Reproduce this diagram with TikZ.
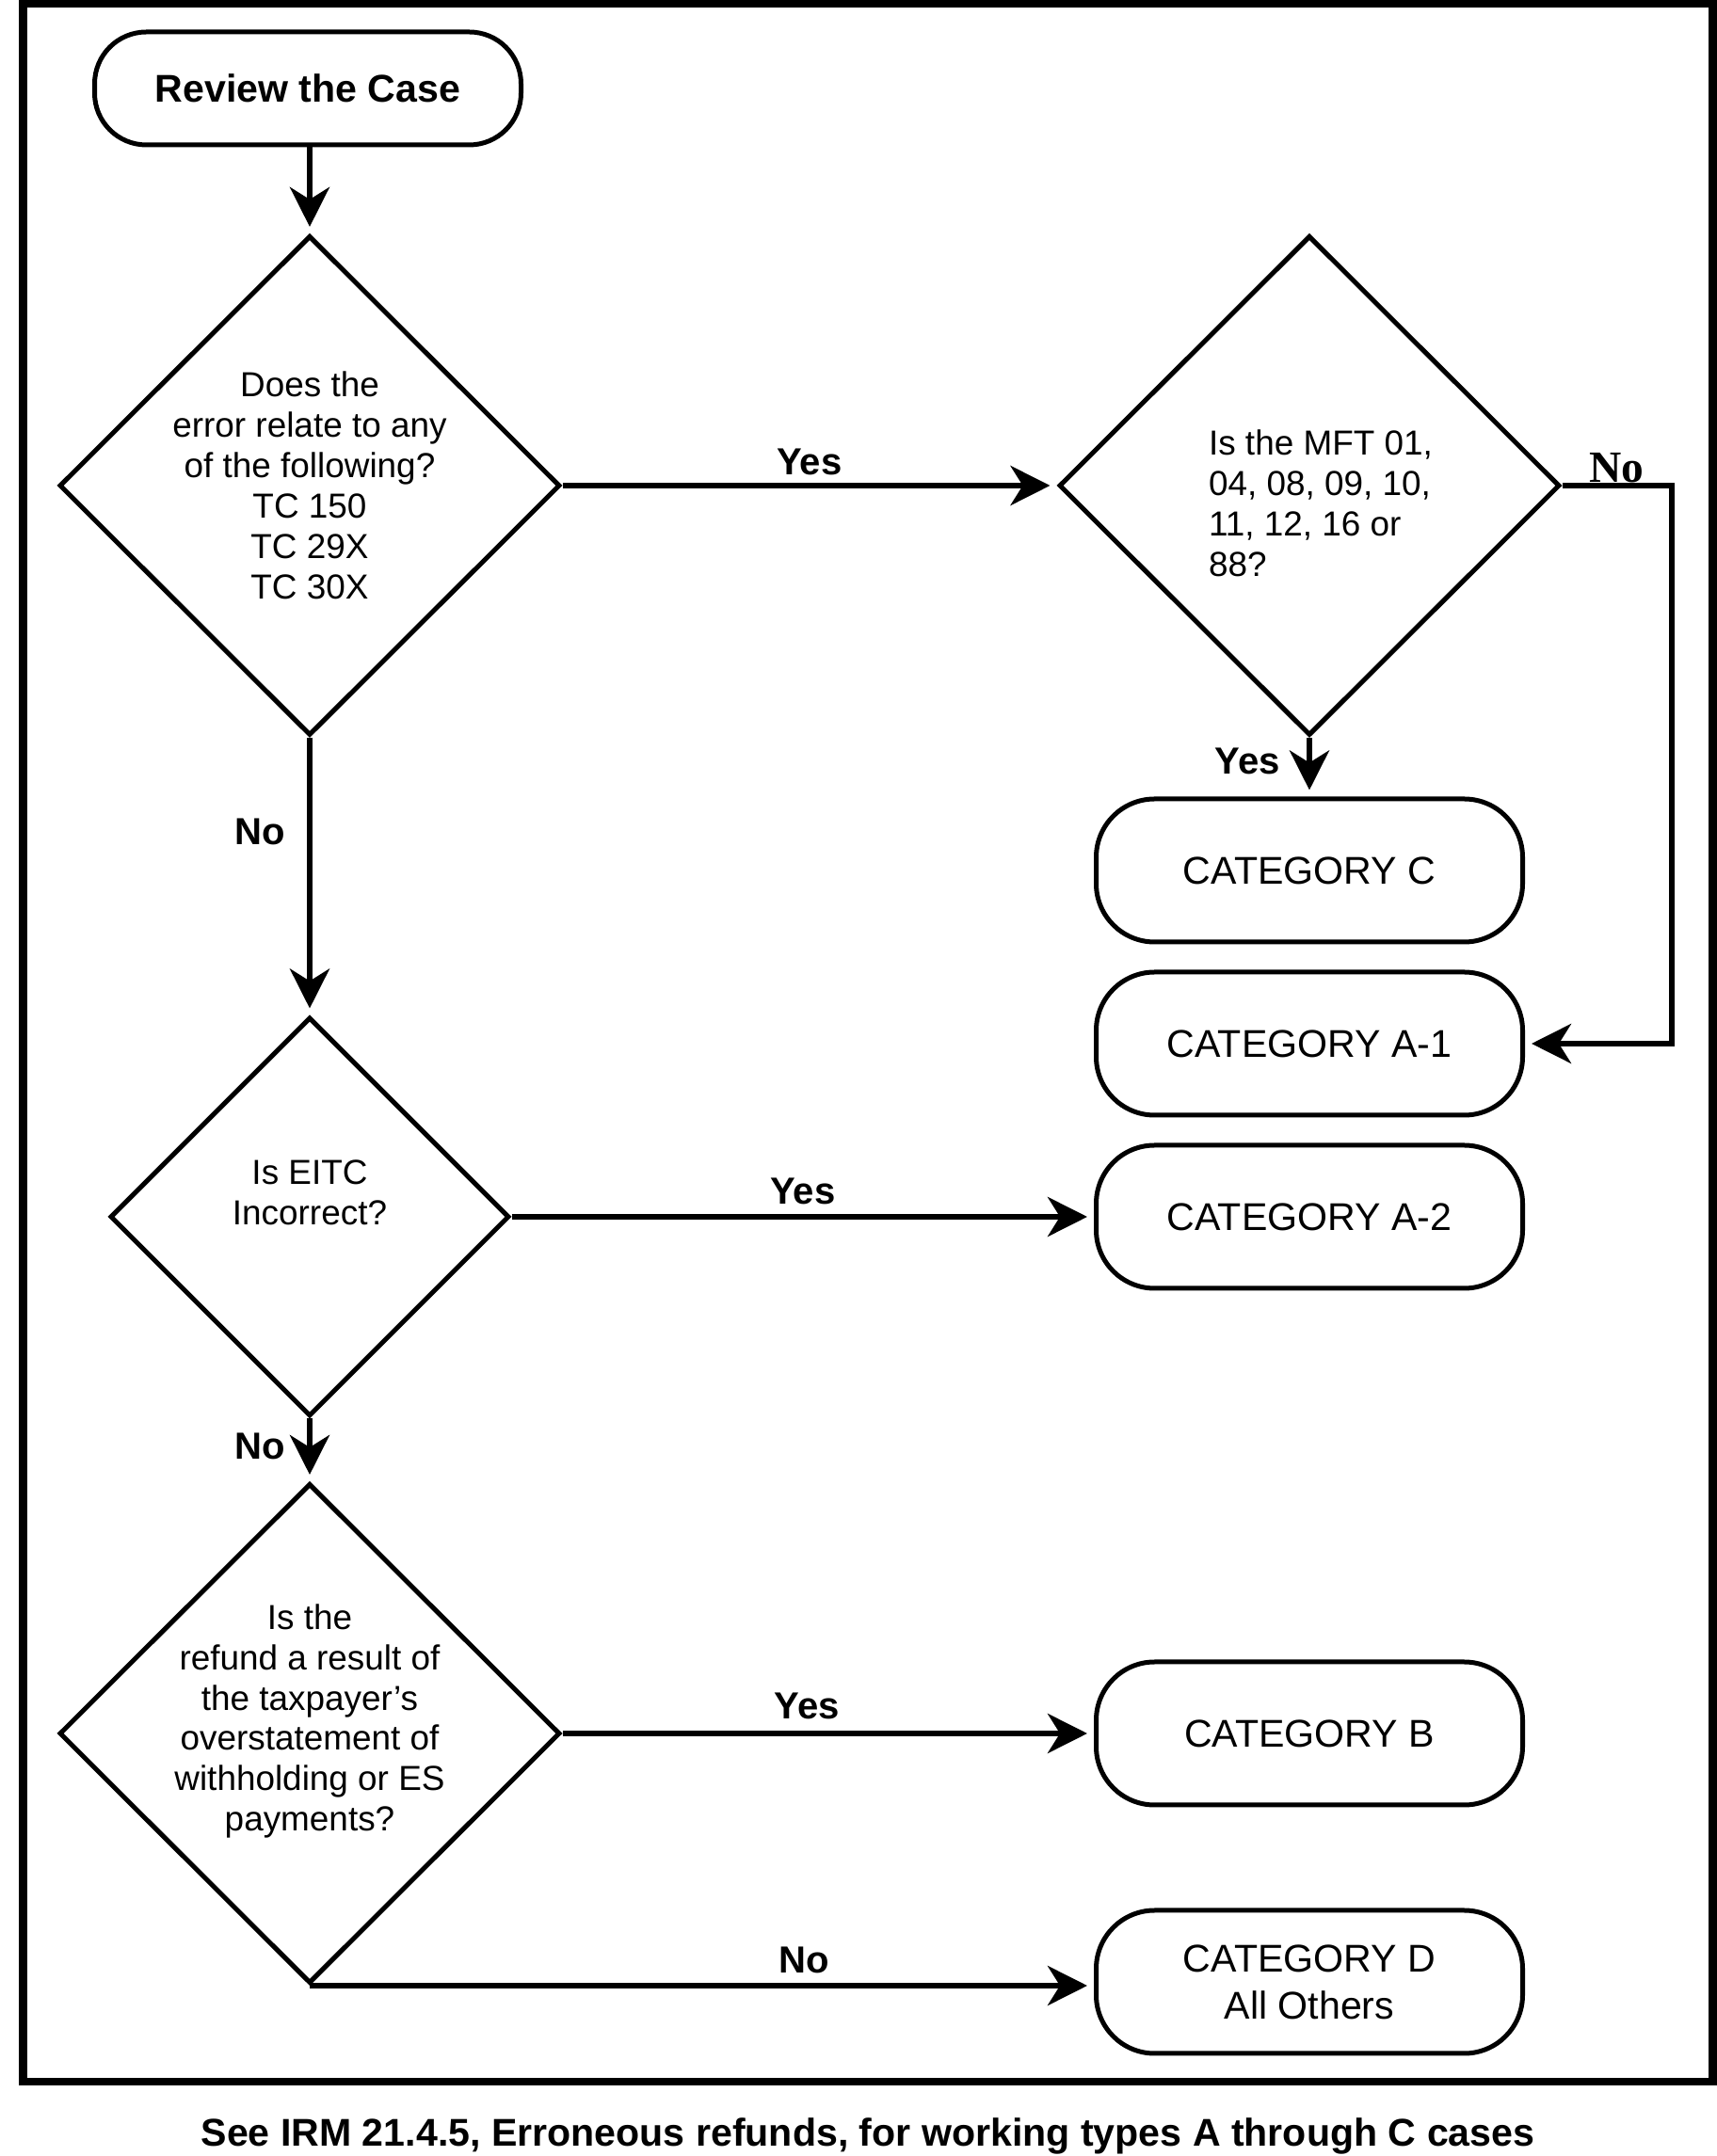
\documentclass[tikz,border=0pt]{standalone}
\usepackage{fontspec}
\setmainfont{Liberation Sans}
\newfontfamily\timesfont{Liberation Serif}
\usetikzlibrary{shapes.geometric,arrows.meta}

\begin{document}
\begin{tikzpicture}[font=\fontsize{11.7}{14.2}\selectfont]
  \useasboundingbox (0,0) rectangle (18.24,22.91);
  % Outer frame round the whole chart.
  \draw[line width=0.09cm] (0.24,0.79) rectangle (18.19,22.87);

  \tikzset{
    terminal/.style={draw,line width=0.05cm,rounded corners=0.62cm,minimum width=4.53cm,minimum height=1.52cm,inner sep=0pt,align=center},
    decision/.style={draw,diamond,line width=0.05cm,inner sep=0pt,minimum width=5.32cm,minimum height=5.31cm},
    qtext/.style={font=\fontsize{10.5}{12.2}\selectfont,align=center,inner sep=0pt},
    flow/.style={line width=0.06cm,-{Stealth[length=0.42cm,width=0.42cm,inset=0.13cm]},shorten >=0.07cm},
    lbl/.style={font=\fontsize{11.4}{13}\selectfont\bfseries,inner sep=0pt}
  }

  % Questions down the left side.
  \node[terminal,font=\fontsize{11.7}{14}\selectfont\bfseries,minimum height=1.2cm,rounded corners=0.55cm] (start) at (3.27,21.97) {Review the Case};
  \node[decision] (d1) at (3.29,17.75) {};
  \node[qtext] (d1q) at (d1) {Does the\\error relate to any\\of the following?\\TC 150\\TC 29X\\TC 30X};
  \node[decision,minimum width=4.24cm,minimum height=4.24cm] (d3) at (3.29,9.98) {};
  \node[qtext] (d3q) at ([yshift=0.26cm]d3.center) {Is EITC\\Incorrect?};
  \node[decision] (d4) at (3.29,4.49) {};
  \node[qtext] (d4q) at ([yshift=0.13cm]d4.center) {Is the\\refund a result of\\the taxpayer’s\\overstatement of\\withholding or ES\\payments?};

  % MFT question and the categories on the right.
  \node[decision] (d2) at (13.91,17.75) {};
  \node[qtext,align=left] (d2q) at ([xshift=0.12cm,yshift=-0.19cm]d2.center) {Is the MFT 01,\\04, 08, 09, 10,\\11, 12, 16 or\\88?};
  \node[terminal] (catC) at (13.91,13.66) {CATEGORY C};
  \node[terminal] (catA1) at (13.91,11.82) {CATEGORY A-1};
  \node[terminal] (catA2) at (13.91,9.98) {CATEGORY A-2};
  \node[terminal] (catB) at (13.91,4.49) {CATEGORY B};
  \node[terminal] (catD) at (13.91,1.85) {CATEGORY D\\All Others};

  % Connectors.
  \draw[flow] (start.south -| d1.north) -- (d1);
  \draw[flow] (d1.east) -- node[lbl,above=0.08cm] {Yes} (d2.west);
  \draw[flow] (d2.south) -- node[lbl,pos=0.4,left=0.28cm] {Yes} (catC.north);
  \draw[flow] (d2.east) -- ++(1.16,0) node[pos=0.5,anchor=base,yshift=0.03cm,inner sep=0pt,font=\fontsize{13.5}{15}\selectfont\timesfont\bfseries] {No} |- (catA1.east);
  \draw[flow] (d1.south) -- node[lbl,pos=0.34,left=0.23cm] {No} (d3.north);
  \draw[flow] (d3.east) -- node[lbl,above=0.1cm] {Yes} (catA2.west);
  \draw[flow] (d3.south) -- node[lbl,pos=0.44,left=0.23cm] {No} (d4.north);
  \draw[flow] (d4.east) -- node[lbl,pos=0.46,above=0.12cm] {Yes} (catB.west);
  \draw[flow] (d4.south) -- node[lbl,pos=0.63,above=0.1cm] {No} (d4.south -| catD.west);

  % Note under the frame.
  \node[font=\fontsize{11.7}{14}\selectfont\bfseries,anchor=base] (note) at (9.22,0.11) {See IRM 21.4.5, Erroneous refunds, for working types A through C cases};
\end{tikzpicture}
\end{document}
